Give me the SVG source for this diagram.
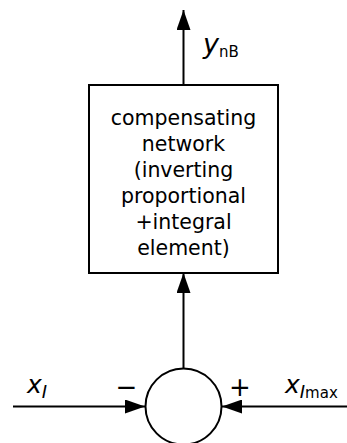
<svg xmlns="http://www.w3.org/2000/svg" width="347" height="443" viewBox="0 0 347 443">
<style>
.ln{stroke:#000;stroke-width:2;fill:none}
.t{font-family:"DejaVu Sans",Verdana,sans-serif;fill:#000}
.bt{font-size:20.5px;text-anchor:middle}
.it{font-style:italic}
.sg{font-size:26px;text-anchor:middle}
</style>
<defs>
<marker id="ah" markerWidth="20" markerHeight="14" refX="20" refY="7" orient="auto" markerUnits="userSpaceOnUse">
<path d="M0,0 L20,7 L0,14 Z" fill="#000"/>
</marker>
</defs>
<rect width="347" height="443" fill="#fff"/>
<g id="connectors">
<line class="ln" x1="183.5" y1="85" x2="183.5" y2="10" marker-end="url(#ah)"/>
<line class="ln" x1="183.5" y1="368" x2="183.5" y2="273" marker-end="url(#ah)"/>
<line class="ln" x1="13" y1="406.5" x2="145" y2="406.5" marker-end="url(#ah)"/>
<line class="ln" x1="347" y1="406.5" x2="222" y2="406.5" marker-end="url(#ah)"/>
</g>
<g id="compensator">
<rect class="ln" x="89" y="85" width="189" height="188"/>
<text class="t bt" x="183.5" y="125">compensating</text>
<text class="t bt" x="183.5" y="151">network</text>
<text class="t bt" x="183.5" y="177">(inverting</text>
<text class="t bt" x="183.5" y="203">proportional</text>
<text class="t bt" x="183.5" y="229">+integral</text>
<text class="t bt" x="183.5" y="255">element)</text>
</g>
<g id="summer">
<circle class="ln" cx="183.5" cy="406.5" r="38"/>
<text class="t sg" x="126.5" y="395.5">−</text>
<text class="t sg" x="240" y="395.5">+</text>
</g>
<g id="labels">
<text class="t" x="203" y="53"><tspan class="it" font-size="27">y</tspan><tspan font-size="15" y="57">nB</tspan></text>
<text class="t" x="27" y="393"><tspan class="it" font-size="25">x</tspan><tspan class="it" font-size="18" y="398">I</tspan></text>
<text class="t" x="285" y="393"><tspan class="it" font-size="25">x</tspan><tspan class="it" font-size="18" y="398">I</tspan><tspan font-size="15">max</tspan></text>
</g>
</svg>
